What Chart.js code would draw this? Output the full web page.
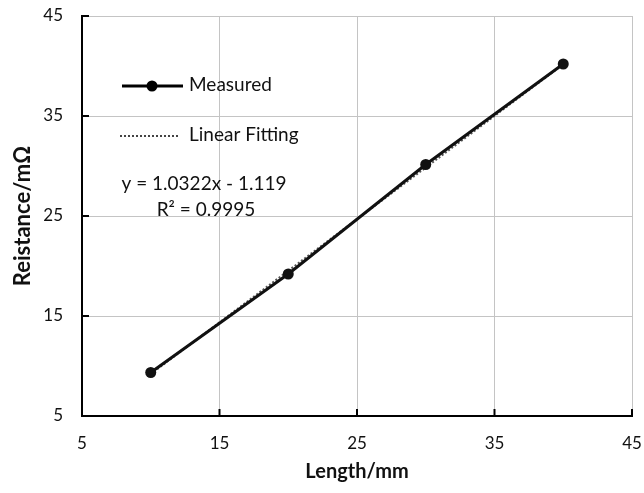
<!DOCTYPE html>
<html>

<head>
  <title>Resistance vs Length</title>
  <script src="https://cdn.jsdelivr.net/npm/chart.js@4.4.1/dist/chart.umd.min.js"></script>
  <style>
    body { margin: 0; background: #fff; }
  </style>
</head>

<body>
  <canvas id="resChart" width="644" height="493"></canvas>

  <script>
    // data
    const lengths = [10, 20, 30, 40];
    const measured = [9.35, 19.2, 30.15, 40.2];
    const fitX = [10, 40];
    const fitY = [9.2, 40.17];
    const tickValues = [5, 15, 25, 35, 45];
    const equationText = 'y = 1.0322x - 1.119';
    const r2Text = 'R\u00B2 = 0.9995';

    const FONT = 'Lato, "Open Sans", sans-serif';

    // legend, equation and inward tick marks
    const overlay = {
      id: 'overlay',
      afterDatasetsDraw(chart) {
        const ctx = chart.ctx;
        const xs = chart.scales.x, ys = chart.scales.y;
        const area = chart.chartArea;
        ctx.save();
        ctx.strokeStyle = '#000';
        ctx.lineWidth = 2;
        tickValues.forEach(v => {
          const px = xs.getPixelForValue(v);
          ctx.beginPath(); ctx.moveTo(px, area.bottom); ctx.lineTo(px, area.bottom - 7); ctx.stroke();
          const py = ys.getPixelForValue(v);
          ctx.beginPath(); ctx.moveTo(area.left, py); ctx.lineTo(area.left + 7, py); ctx.stroke();
        });

        // legend: Measured
        ctx.lineWidth = 3;
        ctx.beginPath(); ctx.moveTo(122, 86); ctx.lineTo(183, 86); ctx.stroke();
        ctx.fillStyle = '#000';
        ctx.beginPath(); ctx.arc(152, 86, 5.5, 0, Math.PI * 2); ctx.fill();
        ctx.font = '19px ' + FONT;
        ctx.textBaseline = 'middle';
        ctx.textAlign = 'left';
        ctx.fillStyle = '#111';
        ctx.fillText('Measured', 189, 85);

        // legend: Linear Fitting
        ctx.lineWidth = 2;
        ctx.strokeStyle = '#444';
        ctx.setLineDash([2, 2]);
        ctx.beginPath(); ctx.moveTo(120, 136); ctx.lineTo(178, 136); ctx.stroke();
        ctx.setLineDash([]);
        ctx.fillText('Linear Fitting', 189, 135);

        // fit equation
        ctx.textAlign = 'center';
        ctx.fillText(equationText, 204, 184);
        ctx.fillText(r2Text, 206, 210);
        ctx.restore();
      }
    };

    const ctx = document.getElementById('resChart').getContext('2d');
    const resChart = new Chart(ctx, {
      type: 'scatter',
      data: {
        datasets: [{
          label: 'Linear Fitting',
          data: fitX.map((x, i) => ({ x: x, y: fitY[i] })),
          showLine: true,
          borderColor: '#555',
          borderWidth: 2,
          borderDash: [2, 2],
          pointRadius: 0,
          order: 2,
        }, {
          label: 'Measured',
          data: lengths.map((x, i) => ({ x: x, y: measured[i] })),
          showLine: true,
          borderColor: '#111',
          backgroundColor: '#111',
          borderWidth: 3,
          pointRadius: 5.5,
          pointBorderWidth: 0,
          order: 1,
        }],
      },
      options: {
        responsive: false,
        animation: false,
        layout: { padding: { top: 16, right: 12, left: 0, bottom: 0 } },
        plugins: {
          legend: { display: false },
          tooltip: { enabled: false },
        },
        scales: {
          x: {
            type: 'linear',
            min: 5,
            max: 45,
            afterBuildTicks: s => { s.ticks = tickValues.map(v => ({ value: v })); },
            afterFit: s => { s.height = 77; s.paddingLeft = 0; s.paddingRight = 0; },
            grid: {
              color: '#c4c4c4',
              lineWidth: 1,
              drawTicks: false,
            },
            border: { display: true, color: '#000', width: 2 },
            ticks: { color: '#111', font: { family: FONT, size: 17 }, padding: 17, maxRotation: 0 },
            title: {
              display: true,
              text: 'Length/mm',
              color: '#111',
              font: { family: FONT, size: 20, weight: 'bold' },
              padding: { top: 0, bottom: 9 },
            },
          },
          y: {
            type: 'linear',
            min: 5,
            max: 45,
            afterBuildTicks: s => { s.ticks = tickValues.map(v => ({ value: v })); },
            afterFit: s => { s.width = 82; s.paddingTop = 0; s.paddingBottom = 0; },
            grid: {
              color: '#c4c4c4',
              lineWidth: 1,
              drawTicks: false,
            },
            border: { display: true, color: '#000', width: 2 },
            ticks: { color: '#111', font: { family: FONT, size: 17 }, padding: 19 },
            title: {
              display: true,
              text: 'Reistance/mΩ',
              color: '#111',
              font: { family: FONT, size: 22, weight: 'bold' },
              padding: { top: 10, bottom: 0 },
            },
          },
        },
      },
      plugins: [overlay],
    });
  </script>
</body>

</html>
